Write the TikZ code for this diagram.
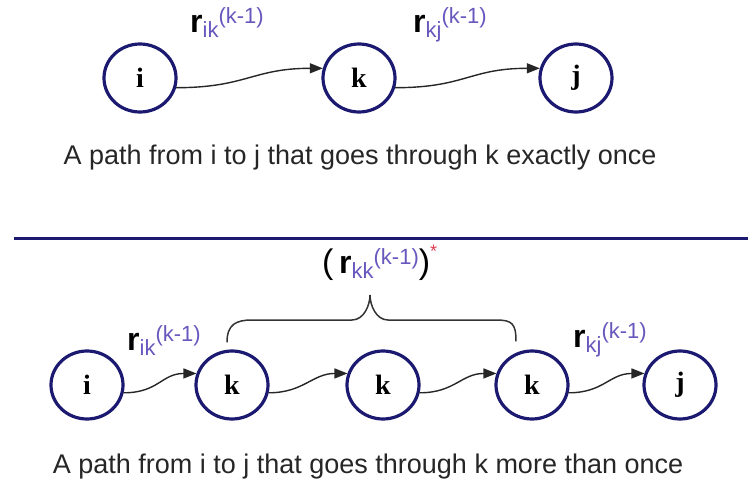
\documentclass[tikz,border=0pt]{standalone}
\usepackage{fontspec}
\setmainfont{Liberation Sans}
\newfontfamily\statefont{Liberation Serif}
\usetikzlibrary{arrows.meta,shapes.geometric,calc}
\definecolor{navy}{RGB}{28,26,112}
\definecolor{subcol}{RGB}{104,88,190}
\definecolor{starcol}{RGB}{220,60,80}
\newcommand{\rbig}{\fontsize{32}{36}\selectfont}
\newcommand{\rsmall}{\fontsize{22}{24}\selectfont}
\newcommand{\rlbl}[1]{{\rbig\bfseries r}{\rsmall\color{subcol}\raisebox{-5pt}{#1}\raisebox{9pt}{(k-1)}}}
\tikzset{
  state/.style   = {ellipse, draw=navy, line width=3.2pt, minimum width=72pt,
                    minimum height=68pt, inner sep=0pt,
                    font=\statefont\bfseries\fontsize{28}{28}\selectfont},
  edge/.style    = {-{Triangle[length=13pt,width=10pt]}, line width=1.4pt, black!85},
  lab/.style     = {anchor=base west, inner sep=0pt},
  captxt/.style  = {font=\fontsize{27}{30}\selectfont, text=black!85, anchor=base, inner sep=0pt},
  bracket/.style = {line width=1.5pt, black!80},
  divider/.style = {line width=3pt, draw=navy},
}

\begin{document}
\begin{tikzpicture}[x=1pt,y=-1pt]
  \useasboundingbox (0,0) rectangle (748,485);

  \node[state] (i1) at (140,78) {i};
  \node[state] (k1) at (359,78) {k};
  \node[state] (j1) at (576,78) {j};

  \draw[edge] (i1.-15) .. controls +(70,0) and +(-70,0) .. (k1.165);
  \draw[edge] (k1.-15) .. controls +(70,0) and +(-70,0) .. (j1.165);

  \node[lab] (rik1) at (190,32) {\rlbl{ik}};
  \node[lab] (rkj1) at (413,32) {\rlbl{kj}};

  \node[captxt] (cap1) at (360,164) {A path from i to j that goes through k exactly once};

  \coordinate (rl) at (14,238);
  \coordinate (rr) at (748,238);
  \draw[divider] (rl) -- (rr);

  \node[state] (i2) at (87,385)  {i};
  \node[state] (k2) at (232,385) {k};
  \node[state] (k3) at (383,385) {k};
  \node[state] (k4) at (532,385) {k};
  \node[state] (j2) at (680,385) {j};

  \foreach \a/\b in {i2/k2,k2/k3,k3/k4,k4/j2}
    \draw[edge] (\a.-12) .. controls +(35,0) and +(-35,0) .. (\b.162);

  \node[lab] (rik2) at (127,350) {\rlbl{ik}};
  \node[lab] (rkj2) at (573,347) {\rlbl{kj}};

  \node[lab] (rkk) at (322,273) {{\fontsize{34}{36}\selectfont(\,}\rlbl{kk}{\fontsize{34}{36}\selectfont)}\raisebox{16pt}{\fontsize{18}{18}\selectfont\color{starcol}*}};

  \coordinate (bl) at ($(k2.north)+(-5,-7)$);
  \coordinate (br) at ($(k4.north)+(-16,-8)$);
  \draw[bracket] (bl) .. controls +(0,-18) and +(-16,0) .. (252,320) -- (352,320)
    .. controls +(12,0) and +(0,10) .. (370,295)
    .. controls +(0,10) and +(-12,0) .. (388,320) -- (496,320)
    .. controls +(16,0) and +(0,-18) .. (br);

  \node[captxt] (cap2) at (368,473) {A path from i to j that goes through k more than once};

\end{tikzpicture}
\end{document}
